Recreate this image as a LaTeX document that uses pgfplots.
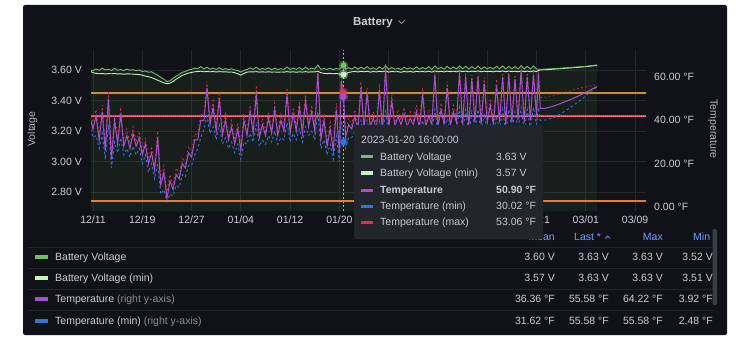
\documentclass[border=0pt]{standalone}
\usepackage{pgfplots}
\usepackage{pgfplotstable}
\pgfplotsset{compat=1.18}
\usepackage{fontspec}
\setmainfont{Liberation Sans}

\definecolor{panel}{HTML}{111217}
\definecolor{gridc}{HTML}{25272D}
\definecolor{txt}{HTML}{CCCCD6}
\definecolor{dimtxt}{HTML}{8C8D96}
\definecolor{axlab}{HTML}{B4B5BD}
\definecolor{hdr}{HTML}{6E9FFF}
\definecolor{tipbg}{HTML}{22252B}
\definecolor{sepc}{HTML}{23252A}
\definecolor{scrollc}{HTML}{3A3D44}
\definecolor{cgreen}{HTML}{73BF69}
\definecolor{clgreen}{HTML}{C8F2C2}
\definecolor{cpurple}{HTML}{A352CC}
\definecolor{cblue}{HTML}{3274D9}
\definecolor{cred}{HTML}{E02F44}
\definecolor{thorange}{HTML}{D68A2C}
\definecolor{thorange2}{HTML}{F07A2C}
\definecolor{thred}{HTML}{E8485C}

\newcommand{\fs}{\fontsize{10.5}{12}\selectfont}

\pgfplotstableread[row sep=\\]{
d v vmin\\
-0.35 3.600 3.590\\ 0 3.596 3.582\\ 0.5 3.606 3.578\\ 1 3.598 3.575\\ 1.5 3.612 3.577\\
2 3.600 3.574\\ 2.5 3.604 3.576\\ 3 3.597 3.575\\ 3.5 3.610 3.577\\ 4 3.599 3.574\\
4.5 3.603 3.575\\ 5 3.596 3.572\\ 5.5 3.606 3.575\\ 6 3.598 3.574\\ 6.5 3.602 3.573\\
7 3.596 3.571\\ 7.5 3.600 3.570\\ 8 3.590 3.566\\ 8.5 3.594 3.560\\ 9 3.585 3.556\\
9.5 3.588 3.550\\ 10 3.575 3.542\\ 10.5 3.565 3.533\\ 11 3.552 3.524\\ 11.5 3.540 3.516\\
12 3.524 3.510\\ 12.5 3.530 3.514\\ 13 3.545 3.524\\ 13.5 3.560 3.540\\ 14 3.572 3.552\\
14.5 3.585 3.565\\ 15 3.590 3.572\\ 15.5 3.600 3.580\\ 16 3.604 3.584\\ 16.5 3.612 3.588\\
17 3.608 3.590\\ 17.5 3.622 3.592\\ 18 3.606 3.588\\ 18.5 3.618 3.590\\ 19 3.605 3.588\\
19.5 3.612 3.590\\ 20 3.604 3.587\\ 20.5 3.615 3.589\\ 21 3.603 3.588\\ 21.5 3.609 3.588\\
22 3.602 3.586\\ 22.5 3.608 3.587\\ 23 3.600 3.582\\ 23.5 3.596 3.575\\ 24 3.586 3.566\\
24.5 3.598 3.578\\ 25 3.603 3.586\\ 25.5 3.614 3.588\\ 26 3.604 3.587\\ 26.5 3.618 3.589\\
27 3.603 3.586\\ 27.5 3.610 3.588\\ 28 3.604 3.586\\ 28.5 3.614 3.588\\ 29 3.602 3.586\\
29.5 3.612 3.587\\ 30 3.603 3.585\\ 30.5 3.609 3.587\\ 31 3.604 3.586\\ 31.5 3.620 3.589\\
32 3.603 3.586\\ 32.5 3.612 3.588\\ 33 3.604 3.585\\ 33.5 3.616 3.588\\ 34 3.603 3.586\\
34.5 3.618 3.589\\ 35 3.604 3.586\\ 35.5 3.612 3.588\\ 36 3.606 3.587\\ 36.5 3.632 3.592\\
37 3.604 3.582\\ 37.5 3.610 3.578\\ 38 3.603 3.576\\ 38.5 3.612 3.578\\ 39 3.602 3.575\\
39.5 3.610 3.577\\ 40 3.604 3.574\\ 40.667 3.630 3.570\\ 41 3.604 3.576\\ 41.5 3.615 3.584\\
42 3.605 3.588\\ 42.5 3.620 3.590\\ 43 3.604 3.587\\ 43.5 3.618 3.591\\ 44 3.606 3.588\\
44.5 3.622 3.592\\ 45 3.605 3.586\\ 45.5 3.614 3.590\\ 46 3.603 3.587\\ 46.5 3.620 3.591\\
47 3.606 3.588\\ 47.5 3.628 3.594\\ 48 3.604 3.586\\ 48.5 3.616 3.590\\ 49 3.605 3.588\\
49.5 3.612 3.589\\ 50 3.603 3.585\\ 50.5 3.618 3.590\\ 51 3.606 3.587\\ 51.5 3.614 3.590\\
52 3.604 3.586\\ 52.5 3.620 3.591\\ 53 3.605 3.588\\ 53.5 3.616 3.590\\ 54 3.606 3.587\\
54.5 3.622 3.592\\ 55 3.604 3.586\\ 55.5 3.626 3.594\\ 56 3.606 3.588\\ 56.5 3.618 3.591\\
57 3.605 3.587\\ 57.5 3.624 3.593\\ 58 3.607 3.589\\ 58.5 3.620 3.592\\ 59 3.606 3.588\\
59.5 3.626 3.594\\ 60 3.607 3.589\\ 60.5 3.624 3.593\\ 61 3.606 3.588\\ 61.5 3.622 3.592\\
62 3.607 3.589\\ 62.5 3.626 3.594\\ 63 3.606 3.588\\ 63.5 3.620 3.592\\ 64 3.607 3.589\\
64.5 3.618 3.591\\ 65 3.606 3.588\\ 65.5 3.624 3.593\\ 66 3.607 3.589\\ 66.5 3.626 3.594\\
67 3.606 3.588\\ 67.5 3.624 3.593\\ 68 3.607 3.589\\ 68.5 3.622 3.592\\ 69 3.606 3.588\\
69.5 3.628 3.594\\ 70 3.607 3.589\\ 70.5 3.624 3.593\\ 71 3.606 3.588\\ 71.5 3.626 3.594\\
72 3.607 3.590\\ 72.5 3.604 3.600\\ 74 3.607 3.603\\ 76 3.612 3.609\\ 78 3.618 3.615\\
80 3.624 3.622\\ 81.8 3.633 3.630\\
}\vdata

\pgfplotstableread[row sep=\\]{
d t tmin tmax\\
-0.35 40 36 42\\ 0 36 32 38\\ 0.5 42 33 45\\ 1 31 27 33\\ 1.5 44 34 47\\
2 26 22 28\\ 2.5 50 38 53\\ 3 22 18 24\\ 3.5 40 30 43\\ 4 29 25 31\\
4.5 43 32 46\\ 5 28 24 30\\ 5.5 33 27 36\\ 6 27 23 29\\ 6.5 34 28 37\\
7 28 24 30\\ 7.5 32 27 35\\ 8 24 20 26\\ 8.5 29 24 32\\ 9 20 16 22\\
9.5 25 20 28\\ 10 17 13 19\\ 10.5 32 20 35\\ 11 10 6 12\\ 11.5 16 8 19\\
12 3.92 2.48 6\\ 12.5 12 6 15\\ 13 8 5 10\\ 13.5 15 10 18\\ 14 13 9 15\\
14.5 20 15 23\\ 15 18 14 20\\ 15.5 25 19 28\\ 16 23 19 25\\ 16.5 31 24 34\\
17 31 27 33\\ 17.5 40 32 43\\ 18 40 36 42\\ 18.5 55 42 58\\ 19 38 34 40\\
19.5 46 37 49\\ 20 35 31 37\\ 20.5 50 38 53\\ 21 33 29 35\\ 21.5 40 32 43\\
22 31 27 33\\ 22.5 37 30 40\\ 23 29 25 31\\ 23.5 36 29 39\\ 24 26 22 28\\
24.5 40 30 43\\ 25 33 29 35\\ 25.5 44 34 47\\ 26 34 30 36\\ 26.5 52 38 56\\
27 32 28 34\\ 27.5 38 31 41\\ 28 33 29 35\\ 28.5 41 33 44\\ 29 34 30 36\\
29.5 45 35 48\\ 30 33 29 35\\ 30.5 40 32 43\\ 31 35 31 37\\ 31.5 52 39 55\\
32 34 30 36\\ 32.5 43 34 46\\ 33 35 31 37\\ 33.5 46 36 49\\ 34 34 30 36\\
34.5 49 37 52\\ 35 37 33 39\\ 35.5 44 35 47\\ 36 35 31 37\\ 36.5 62 44 64\\
37 31 27 33\\ 37.5 40 31 43\\ 38 28 24 30\\ 38.5 36 29 39\\ 39 26 22 28\\
39.5 45 33 48\\ 40 25 21 27\\ 40.3 58 40 60\\ 40.667 50.9 30.02 53.06\\ 41 32 27 34\\
41.5 38 32 41\\ 42 36 32 38\\ 42.5 42 35 45\\ 43 35 31 37\\ 43.5 55 40 58\\
44 36 32 38\\ 44.5 52.5 40 55\\ 45 37 33 39\\ 45.5 41 35 44\\ 46 36 32 38\\
46.5 54 40 57\\ 47 35 31 37\\ 47.5 64.22 45 66\\ 48 36 32 38\\ 48.5 49 38 52\\
49 37 33 39\\ 49.5 42 35 45\\ 50 38 34 40\\ 50.5 43 36 46\\ 51 37 33 39\\
51.5 41 35 44\\ 52 38 34 40\\ 52.5 44 36 47\\ 53 36 32 38\\ 53.5 52 40 55\\
54 37 33 39\\ 54.5 42 35 45\\ 55 38 34 40\\ 55.5 61 45 63\\ 56 37 33 39\\
56.5 45 37 48\\ 57 38 34 40\\ 57.5 55 42 58\\ 58 37 33 39\\ 58.5 44 36 47\\
59 39 35 41\\ 59.5 62 46 64\\ 60 38 34 40\\ 60.5 60 45 62\\ 61 37 33 39\\
61.5 59 44 61\\ 62 39 35 41\\ 62.5 60 45 62\\ 63 38 34 40\\ 63.5 57 43 60\\
64 39 35 41\\ 64.5 47 38 50\\ 65 38 34 40\\ 65.5 56 42 59\\ 66 39 35 41\\
66.5 60 45 62\\ 67 38 34 40\\ 67.5 61 45 63\\ 68 39 35 41\\ 68.5 59 44 61\\
69 40 36 42\\ 69.5 63 46 65\\ 70 39 35 41\\ 70.5 60 45 62\\ 71 40 36 42\\
71.5 61 46 63\\ 72 42 38 44\\ 72.3 61.7 46 63\\ 72.6 45.5 40 50.5\\ 73.5 45.6 40.2 50.8\\
75 46.8 41.5 51.8\\ 77 49 45 53.3\\ 79 51.5 49 54.8\\ 81.8 55.58 55.58 56.5\\
}\tdata

\begin{document}
\begin{tikzpicture}[x=1pt,y=1pt]
\useasboundingbox (0,0) rectangle (743,351);
\fill[white] (0,0) rectangle (743,351);
\fill[panel, rounded corners=2pt] (23,16) rectangle (727,346);

% title
\node[anchor=base, font={\fontsize{11.5}{13}\selectfont\bfseries}, text=txt, inner sep=0] at (373,325.5) {Battery};
\draw[dimtxt, line width=0.8pt] (398.5,330.5) -- (401.5,327.5) -- (404.5,330.5);

% ---------- left axis: voltage ----------
\begin{axis}[
  at={(91pt,140pt)}, anchor=south west, scale only axis,
  width=555pt, height=161pt,
  xmin=-0.325, xmax=89.77, ymin=2.6754, ymax=3.731,
  axis line style={draw=none}, major tick length=0pt,
  xtick={0,8,16,24,32,40,48,56,64,72,80,88},
  xticklabels={12/11,12/19,12/27,01/04,01/12,01/20,,,,,03/01,03/09},
  ytick={2.8,3.0,3.2,3.4,3.6},
  yticklabels={2.80 V,3.00 V,3.20 V,3.40 V,3.60 V},
  grid=major, major grid style={color=gridc, line width=0.8pt},
  /pgf/number format/assume math mode=true,
  ticklabel style={font=\fs, text=txt},
  yticklabel style={anchor=east, inner sep=0pt, xshift=-9pt},
  xticklabel style={anchor=north, inner sep=0pt, yshift=-5pt},
]
\addplot[fill=cgreen, fill opacity=0.07, draw=none] table[x=d,y=v]{\vdata} \closedcycle;
\addplot[thorange, line width=1.7pt] coordinates {(-1,3.45) (95,3.45)};
\addplot[thred, line width=1.6pt] coordinates {(-1,3.30) (95,3.30)};
\addplot[gray!70, line width=0.6pt, dash pattern=on 1pt off 1pt] coordinates {(-1,3.2955) (95,3.2955)};
\addplot[color=gray!60, line width=0.7pt, dash pattern=on 2pt off 2pt] coordinates {(40.667,2.6754) (40.667,3.731)};
\addplot[clgreen, line width=0.9pt] table[x=d,y=vmin]{\vdata};
\addplot[cgreen, line width=0.9pt] table[x=d,y=v]{\vdata};
\end{axis}

% ---------- right axis: temperature ----------
\begin{axis}[
  at={(91pt,140pt)}, anchor=south west, scale only axis,
  width=555pt, height=161pt,
  xmin=-0.325, xmax=89.77, ymin=-1.85, ymax=72.5,
  axis x line=none, axis y line*=right,
  axis line style={draw=none}, major tick length=0pt,
  ytick={0,20,40,60},
  yticklabels={0.00 °F,20.00 °F,40.00 °F,60.00 °F},
  /pgf/number format/assume math mode=true,
  ticklabel style={font=\fs, text=txt},
  yticklabel style={anchor=west, inner sep=0pt, xshift=8pt},
]
\addplot[cred, line width=0.8pt, dash pattern=on 1.6pt off 2.6pt] table[x=d,y=tmax]{\tdata};
\addplot[cblue, line width=0.9pt, dash pattern=on 2.5pt off 2.5pt] table[x=d,y=tmin]{\tdata};
\addplot[cpurple, line width=1pt] table[x=d,y=t]{\tdata};
\addplot[thorange2, line width=1.8pt] coordinates {(-5,2.6) (95,2.6)};
\end{axis}

% hover markers (drawn on top)
\begin{axis}[
  at={(91pt,140pt)}, anchor=south west, scale only axis,
  width=555pt, height=161pt,
  xmin=-0.325, xmax=89.77, ymin=2.6754, ymax=3.731, hide axis, clip=false]
\addplot[only marks, mark=*, mark size=4.5pt, cgreen, opacity=0.35] coordinates {(40.667,3.63)};
\addplot[only marks, mark=*, mark size=2.8pt, cgreen] coordinates {(40.667,3.63)};
\addplot[only marks, mark=*, mark size=4.5pt, clgreen, opacity=0.35] coordinates {(40.667,3.57)};
\addplot[only marks, mark=*, mark size=2.8pt, clgreen] coordinates {(40.667,3.57)};
\end{axis}
\begin{axis}[
  at={(91pt,140pt)}, anchor=south west, scale only axis,
  width=555pt, height=161pt,
  xmin=-0.325, xmax=89.77, ymin=-1.85, ymax=72.5, hide axis, clip=false]
\addplot[only marks, mark=*, mark size=4.5pt, cred, opacity=0.35] coordinates {(40.667,53.06)};
\addplot[only marks, mark=*, mark size=2.8pt, cred] coordinates {(40.667,53.06)};
\addplot[only marks, mark=*, mark size=4.5pt, cpurple, opacity=0.35] coordinates {(40.667,50.9)};
\addplot[only marks, mark=*, mark size=2.8pt, cpurple] coordinates {(40.667,50.9)};
\addplot[only marks, mark=*, mark size=4.5pt, cblue, opacity=0.35] coordinates {(40.667,30.02)};
\addplot[only marks, mark=*, mark size=2.8pt, cblue] coordinates {(40.667,30.02)};
\end{axis}

% partly hidden tick label (tail of 02/21 shows beside the tooltip)
\node[anchor=north east, font=\fs, text=txt, inner sep=0] at (550.1,135) {21};

% axis titles
\node[rotate=90, font=\fs, text=axlab, inner sep=0] at (32.5,222) {Voltage};
\node[rotate=-90, font=\fs, text=axlab, inner sep=0] at (713,222) {Temperature};

% ---------- legend table ----------
\foreach \yy in {104,83,62,41} {\draw[sepc, line width=0.8pt] (28,\yy) -- (718,\yy);}
\begin{scope}[font=\fs]
\node[anchor=base east, text=hdr, inner sep=0] at (555,110.2) {Mean};
\node[anchor=base west, text=hdr, inner sep=0] at (574,110.2) {Last *};
\draw[hdr, line width=0.7pt] (605,112.5) -- (607.5,115) -- (610,112.5);
\node[anchor=base east, text=hdr, inner sep=0] at (663,110.2) {Max};
\node[anchor=base west, text=hdr, inner sep=0] at (693,110.2) {Min};

\fill[cgreen]  (35,92.3) rectangle (48,95.7);
\fill[clgreen] (35,71.3) rectangle (48,74.7);
\fill[cpurple] (35,50.3) rectangle (48,53.7);
\fill[cblue]   (35,28.3) rectangle (48,31.7);
\node[anchor=base west, text=txt, inner sep=0] at (55,90.2) {Battery Voltage};
\node[anchor=base west, text=txt, inner sep=0] at (55,69.2) {Battery Voltage (min)};
\node[anchor=base west, text=txt, inner sep=0] at (55,48.2) {Temperature \textcolor{dimtxt}{(right y-axis)}};
\node[anchor=base west, text=txt, inner sep=0] at (55,26.2) {Temperature (min) \textcolor{dimtxt}{(right y-axis)}};

\foreach \yb/\a/\b/\c/\d in {90.2/3.60 V/3.63 V/3.63 V/3.52 V, 69.2/3.57 V/3.63 V/3.63 V/3.51 V, 48.2/36.36 °F/55.58 °F/64.22 °F/3.92 °F, 26.2/31.62 °F/55.58 °F/55.58 °F/2.48 °F} {
  \node[anchor=base east, text=txt, inner sep=0] at (555,\yb) {\a};
  \node[anchor=base east, text=txt, inner sep=0] at (609,\yb) {\b};
  \node[anchor=base east, text=txt, inner sep=0] at (663,\yb) {\c};
  \node[anchor=base east, text=txt, inner sep=0] at (713,\yb) {\d};
}
\end{scope}
\fill[panel] (714,20) rectangle (727,125);
\fill[scrollc, rounded corners=2pt] (712.5,46) rectangle (717,122);

% ---------- tooltip ----------
\fill[tipbg, rounded corners=2pt] (354,112) rectangle (543,226);
\begin{scope}[font=\fs, text=txt!110]
\node[anchor=base west, inner sep=0] at (361,207.2) {2023-01-20 16:00:00};
\fill[cgreen]  (361,192.5) rectangle (372.5,195.5);
\fill[clgreen] (361,176.5) rectangle (372.5,179.5);
\fill[cpurple] (361,159.5) rectangle (372.5,162.5);
\fill[cblue]   (361,143.5) rectangle (372.5,146.5);
\fill[cred]    (361,127.5) rectangle (372.5,130.5);
\node[anchor=base west, inner sep=0] at (380,190.2) {Battery Voltage};
\node[anchor=base west, inner sep=0] at (380,174.2) {Battery Voltage (min)};
\node[anchor=base west, inner sep=0, font=\fs\bfseries] at (380,157.2) {Temperature};
\node[anchor=base west, inner sep=0] at (380,141.2) {Temperature (min)};
\node[anchor=base west, inner sep=0] at (380,125.2) {Temperature (max)};
\node[anchor=base west, inner sep=0] at (496,190.2) {3.63 V};
\node[anchor=base west, inner sep=0] at (496,174.2) {3.57 V};
\node[anchor=base west, inner sep=0, font=\fs\bfseries] at (496,157.2) {50.90 °F};
\node[anchor=base west, inner sep=0] at (496,141.2) {30.02 °F};
\node[anchor=base west, inner sep=0] at (496,125.2) {53.06 °F};
\end{scope}
\end{tikzpicture}
\end{document}
